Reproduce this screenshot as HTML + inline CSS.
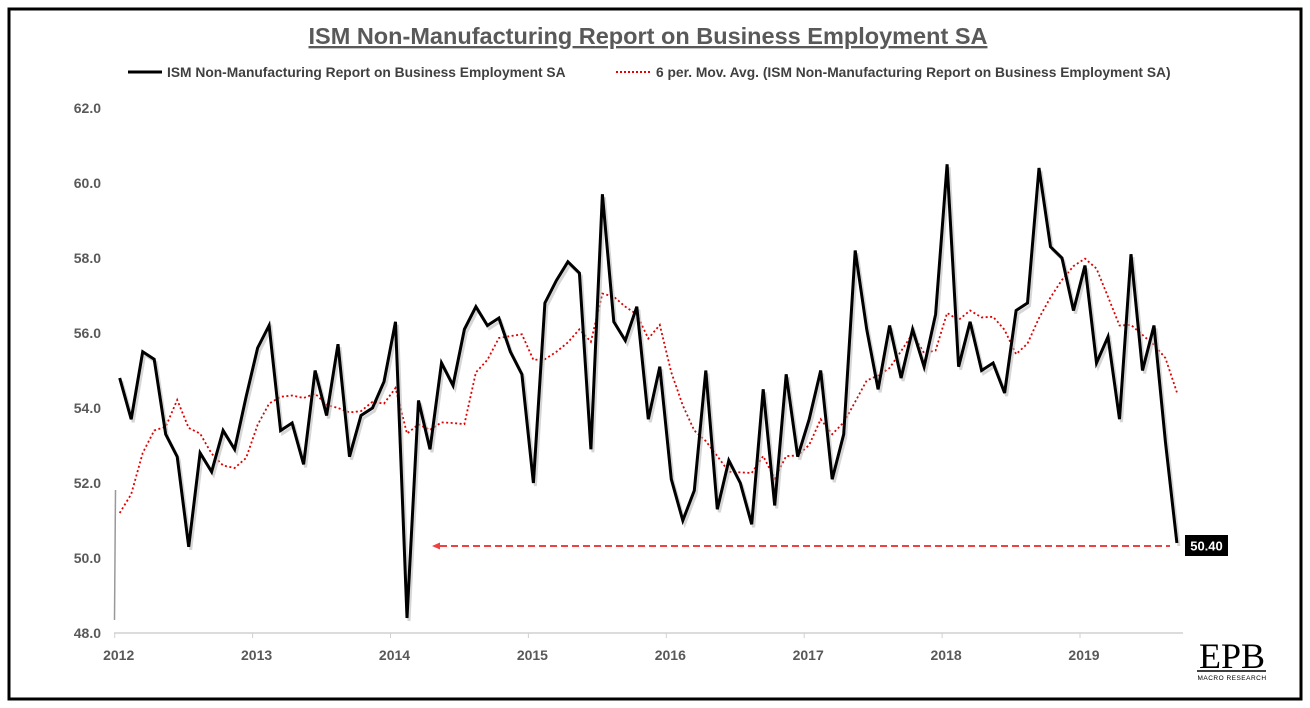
<!DOCTYPE html>
<html><head><meta charset="utf-8"><style>
body{margin:0;background:#fff;font-family:"Liberation Sans",sans-serif}
#wrap{position:relative;width:1310px;height:708px;overflow:hidden}
</style></head><body>
<div id="wrap">
<svg id="chart" width="1310" height="708">
<rect x="9" y="9" width="1292" height="690" fill="#fff" stroke="#000" stroke-width="3"/>
<text x="648" y="44" text-anchor="middle" font-size="23.5" font-weight="bold" fill="#595959" text-decoration="underline">ISM Non-Manufacturing Report on Business Employment SA</text>
<g>
<line x1="128" y1="72" x2="162" y2="72" stroke="#000" stroke-width="3"/>
<text x="167" y="77" font-size="13.8" font-weight="bold" fill="#404040">ISM Non-Manufacturing Report on Business Employment SA</text>
<line x1="616" y1="72" x2="650" y2="72" stroke="#e00" stroke-width="2" stroke-dasharray="2,2"/>
<text x="656" y="77" font-size="13.8" font-weight="bold" fill="#404040">6 per. Mov. Avg. (ISM Non-Manufacturing Report on Business Employment SA)</text>
</g>
<g id="axes"></g>
<g id="series"></g>
<line x1="114.5" y1="620" x2="115.5" y2="490" stroke="#999" stroke-width="1.5"/>
<line x1="440" y1="546" x2="1170" y2="546" stroke="#f04040" stroke-width="2" stroke-dasharray="7,4"/>
<polygon points="432,546 440,542.5 440,549.5" fill="#f04040"/>
<rect x="1185" y="535" width="43" height="21" fill="#000"/>
<text x="1206.5" y="550.5" text-anchor="middle" font-size="13" font-weight="bold" fill="#fff">50.40</text>
<g>
<text x="1232" y="668" text-anchor="middle" font-family="Liberation Serif,serif" font-size="36" fill="#000">EPB</text>
<line x1="1197" y1="671" x2="1266" y2="671" stroke="#000" stroke-width="1.5"/>
<text x="1232" y="680" text-anchor="middle" font-size="6.5" fill="#000" letter-spacing="0.5">MACRO RESEARCH</text>
</g>
</svg>
</div>
<script>
const values = [54.8,53.7,55.5,55.3,53.3,52.7,50.3,52.8,52.3,53.4,52.9,54.3,
55.6,56.2,53.4,53.6,52.5,55.0,53.8,55.7,52.7,53.8,54.0,54.7,
56.3,48.4,54.2,52.9,55.2,54.6,56.1,56.7,56.2,56.4,55.5,54.9,
52.0,56.8,57.4,57.9,57.6,52.9,59.7,56.3,55.8,56.7,53.7,55.1,
52.1,51.0,51.8,55.0,51.3,52.6,52.0,50.9,54.5,51.4,54.9,52.7,
53.7,55.0,52.1,53.3,58.2,56.1,54.5,56.2,54.8,56.1,55.1,56.5,
60.5,55.1,56.3,55.0,55.2,54.4,56.6,56.8,60.4,58.3,58.0,56.6,
57.8,55.2,55.9,53.7,58.1,55.0,56.2,53.1,50.4];
const maHead = [51.2,51.7,52.8,53.4,53.5];
const yTicks = [48,50,52,54,56,58,60,62];
const xYears = [2012,2013,2014,2015,2016,2017,2018,2019];
const yMin=48,yMax=62,yTop=108,yBot=633;
function y(v){return yBot-(v-yMin)/(yMax-yMin)*(yBot-yTop);}
const yearX0=114.7, yearW=137.9;
function xYear(k){return yearX0+k*yearW;}
function x(i){return yearX0+5+i*yearW/12;}
const NS="http://www.w3.org/2000/svg";
const axes=document.getElementById('axes'), ser=document.getElementById('series');
yTicks.forEach(t=>{
 const tx=document.createElementNS(NS,'text');
 tx.setAttribute('x',101);tx.setAttribute('y',y(t)+5);tx.setAttribute('text-anchor','end');
 tx.setAttribute('font-size','14');tx.setAttribute('font-weight','bold');tx.setAttribute('fill','#595959');
 tx.textContent=t.toFixed(1);
 
 
 axes.appendChild(tx);
});
const ax=document.createElementNS(NS,'line');
ax.setAttribute('x1',114);ax.setAttribute('x2',1183);ax.setAttribute('y1',yBot);ax.setAttribute('y2',yBot);
ax.setAttribute('stroke','#d0d0d0');ax.setAttribute('stroke-width','1.5');


axes.appendChild(ax);
xYears.forEach((yr,k)=>{
 const tk=document.createElementNS(NS,'line');
 tk.setAttribute('x1',xYear(k));tk.setAttribute('x2',xYear(k));tk.setAttribute('y1',yBot);tk.setAttribute('y2',yBot+5);
 tk.setAttribute('stroke','#d0d0d0');
 
 
 axes.appendChild(tk);
 const tx=document.createElementNS(NS,'text');
 tx.setAttribute('x',xYear(k)+4);tx.setAttribute('y',660);tx.setAttribute('text-anchor','middle');
 tx.setAttribute('font-size','14');tx.setAttribute('font-weight','bold');tx.setAttribute('fill','#595959');
 tx.textContent=yr;
 
 
 axes.appendChild(tx);
});
const ma=values.map((v,i)=>{
 if(i<5) return maHead[i];
 let s=0;for(let j=i-5;j<=i;j++)s+=values[j];return s/6;});
const maPts=ma.map((v,i)=>x(i).toFixed(1)+','+y(v).toFixed(1)).join(' ');
const pm=document.createElementNS(NS,'polyline');
pm.setAttribute('points',maPts);pm.setAttribute('fill','none');pm.setAttribute('stroke','#e00000');
pm.setAttribute('stroke-width','1.8');pm.setAttribute('stroke-dasharray','2,2.5');


ser.appendChild(pm);
const pts=values.map((v,i)=>x(i).toFixed(1)+','+y(v).toFixed(1)).join(' ');
const sh=document.createElementNS(NS,'polyline');
sh.setAttribute('points',pts);sh.setAttribute('fill','none');sh.setAttribute('stroke','#bbb');
sh.setAttribute('stroke-width','3');sh.setAttribute('transform','translate(2,3)');sh.setAttribute('opacity','0.6');


ser.appendChild(sh);
const pl=document.createElementNS(NS,'polyline');
pl.setAttribute('points',pts);pl.setAttribute('fill','none');pl.setAttribute('stroke','#000');
pl.setAttribute('stroke-width','3');pl.setAttribute('stroke-linejoin','miter');


ser.appendChild(pl);
</script>
</body></html>
